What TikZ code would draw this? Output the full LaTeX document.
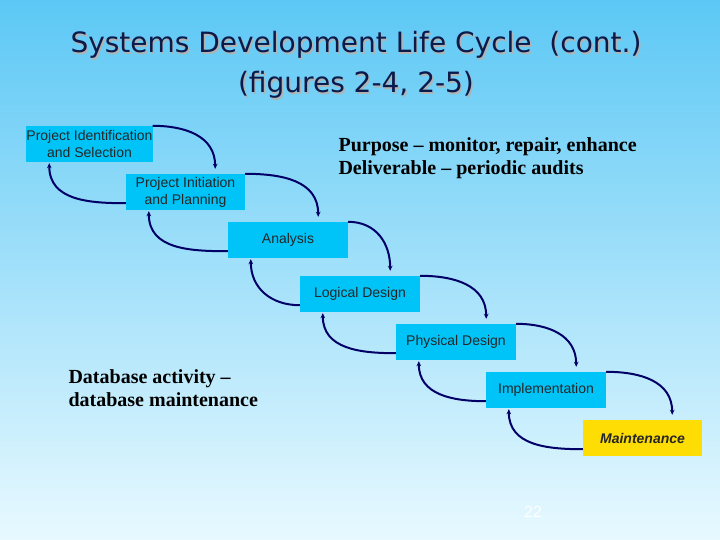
\documentclass[tikz,border=0pt]{standalone}
\usepackage{fontspec}
\setmainfont{Liberation Serif}
\setsansfont{Liberation Sans}
\newfontfamily\titlefont{DejaVu Sans}
\usetikzlibrary{calc,arrows.meta}
\definecolor{bgtop}{HTML}{5CC8F5}
\definecolor{bgbot}{HTML}{E8F9FF}
\definecolor{boxc}{HTML}{00C4F8}
\definecolor{navy}{HTML}{000066}
\definecolor{ttl}{HTML}{0A1A4A}
\begin{document}
\begin{tikzpicture}[x=1pt,y=-1pt,
  box/.style={fill=boxc,minimum width=120pt,minimum height=36pt,inner sep=0pt,align=center,font=\sffamily\fontsize{14}{17}\selectfont,text=black!85},
  arr/.style={draw=navy,line width=2pt,-{Stealth[length=5pt,width=4.5pt]}}]
\shade[top color=bgtop,bottom color=bgbot] (0,0) rectangle (720,540);
\useasboundingbox (0,0) rectangle (720,540);
\node[text=black!30,align=center,font=\titlefont\fontsize{28}{40}\selectfont] (shadow) at (357.5,66.5) {Systems Development Life Cycle~~(cont.)\\(figures 2-4, 2-5)};
\node[align=center,text=ttl,font=\titlefont\fontsize{28}{40}\selectfont] (title) at (356,65) {Systems Development Life Cycle~~(cont.)\\(figures 2-4, 2-5)};
\node[box,minimum width=119pt] (b1) at (89.5,144) {Project Identification\\and Selection};
\node[box,minimum width=119pt] (b2) at (185.5,192) {Project Initiation\\and Planning};
\node[box] (b3) at (288,240) {Analysis};
\node[box] (b4) at (360,294) {Logical Design};
\node[box] (b5) at (456,342) {Physical Design};
\node[box] (b6) at (546,390) {Implementation};
\node[box,fill=yellow!80!orange,minimum width=119pt,font=\sffamily\bfseries\itshape\fontsize{14}{17}\selectfont] (b7) at (642.5,438) {Maintenance};
\foreach \a/\b in {b1/b2,b2/b3,b3/b4,b4/b5,b5/b6,b6/b7}{
  \draw[arr] (\a.north east) to[out=0,in=90,looseness=1.1] ($(\b.north east)+(-30,-5)$);
  \draw[arr] ($(\b.south west)+(0,-7)$) to[out=180,in=-90,looseness=1.1] ($(\a.south west)+(23,1)$);
}
\node[anchor=west,align=left,font=\bfseries\fontsize{20}{23}\selectfont] (p) at (335,158) {Purpose -- monitor, repair, enhance\\Deliverable -- periodic audits};
\node[anchor=west,align=left,font=\bfseries\fontsize{20}{23}\selectfont] (d) at (65,388) {Database activity --\\database maintenance};
\node[text=white,font=\sffamily\fontsize{16}{18}\selectfont] (n) at (533,512) {22};
\end{tikzpicture}
\end{document}
